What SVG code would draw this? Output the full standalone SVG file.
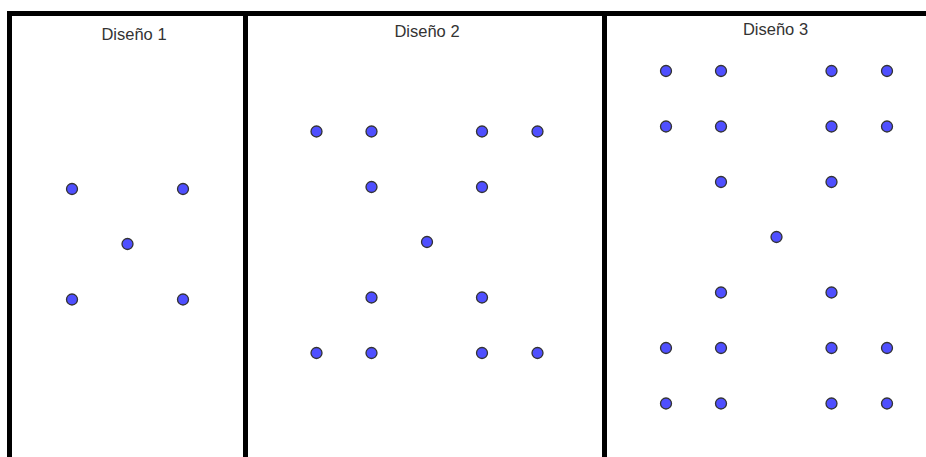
<svg xmlns="http://www.w3.org/2000/svg" width="926" height="457" viewBox="0 0 926 457">
<style>
.frame{fill:none;stroke:#000;stroke-width:5}
.dot{fill:#4f4fff;stroke:#333;stroke-width:1.3}
.lbl{font-family:"Liberation Sans",Arial,sans-serif;font-size:16.5px;fill:#333;text-anchor:middle}
</style>
<rect width="926" height="457" fill="#fff"/>
<g id="frames">
<path class="frame" d="M9.5 460 V13.5 H930"/>
<path class="frame" d="M245.5 13.5 V460"/>
<path class="frame" d="M604.5 13.5 V460"/>
</g>
<g id="design1">
<text class="lbl" x="134" y="40">Diseño 1</text>
<circle class="dot" cx="72" cy="189" r="5.5"/>
<circle class="dot" cx="183" cy="189" r="5.5"/>
<circle class="dot" cx="127.5" cy="244" r="5.5"/>
<circle class="dot" cx="72" cy="299.5" r="5.5"/>
<circle class="dot" cx="183" cy="299.5" r="5.5"/>
</g>
<g id="design2">
<text class="lbl" x="427" y="37">Diseño 2</text>
<circle class="dot" cx="316.5" cy="131.5" r="5.5"/>
<circle class="dot" cx="371.5" cy="131.5" r="5.5"/>
<circle class="dot" cx="482" cy="131.5" r="5.5"/>
<circle class="dot" cx="537.5" cy="131.5" r="5.5"/>
<circle class="dot" cx="371.5" cy="187" r="5.5"/>
<circle class="dot" cx="482" cy="187" r="5.5"/>
<circle class="dot" cx="427" cy="242" r="5.5"/>
<circle class="dot" cx="371.5" cy="297.5" r="5.5"/>
<circle class="dot" cx="482" cy="297.5" r="5.5"/>
<circle class="dot" cx="316.5" cy="353" r="5.5"/>
<circle class="dot" cx="371.5" cy="353" r="5.5"/>
<circle class="dot" cx="482" cy="353" r="5.5"/>
<circle class="dot" cx="537.5" cy="353" r="5.5"/>
</g>
<g id="design3">
<text class="lbl" x="775.5" y="35">Diseño 3</text>
<circle class="dot" cx="666" cy="71" r="5.5"/>
<circle class="dot" cx="721" cy="71" r="5.5"/>
<circle class="dot" cx="831.5" cy="71" r="5.5"/>
<circle class="dot" cx="887" cy="71" r="5.5"/>
<circle class="dot" cx="666" cy="126.5" r="5.5"/>
<circle class="dot" cx="721" cy="126.5" r="5.5"/>
<circle class="dot" cx="831.5" cy="126.5" r="5.5"/>
<circle class="dot" cx="887" cy="126.5" r="5.5"/>
<circle class="dot" cx="721" cy="182" r="5.5"/>
<circle class="dot" cx="831.5" cy="182" r="5.5"/>
<circle class="dot" cx="776.5" cy="237" r="5.5"/>
<circle class="dot" cx="721" cy="292.5" r="5.5"/>
<circle class="dot" cx="831.5" cy="292.5" r="5.5"/>
<circle class="dot" cx="666" cy="348" r="5.5"/>
<circle class="dot" cx="721" cy="348" r="5.5"/>
<circle class="dot" cx="831.5" cy="348" r="5.5"/>
<circle class="dot" cx="887" cy="348" r="5.5"/>
<circle class="dot" cx="666" cy="403.5" r="5.5"/>
<circle class="dot" cx="721" cy="403.5" r="5.5"/>
<circle class="dot" cx="831.5" cy="403.5" r="5.5"/>
<circle class="dot" cx="887" cy="403.5" r="5.5"/>
</g>
</svg>
